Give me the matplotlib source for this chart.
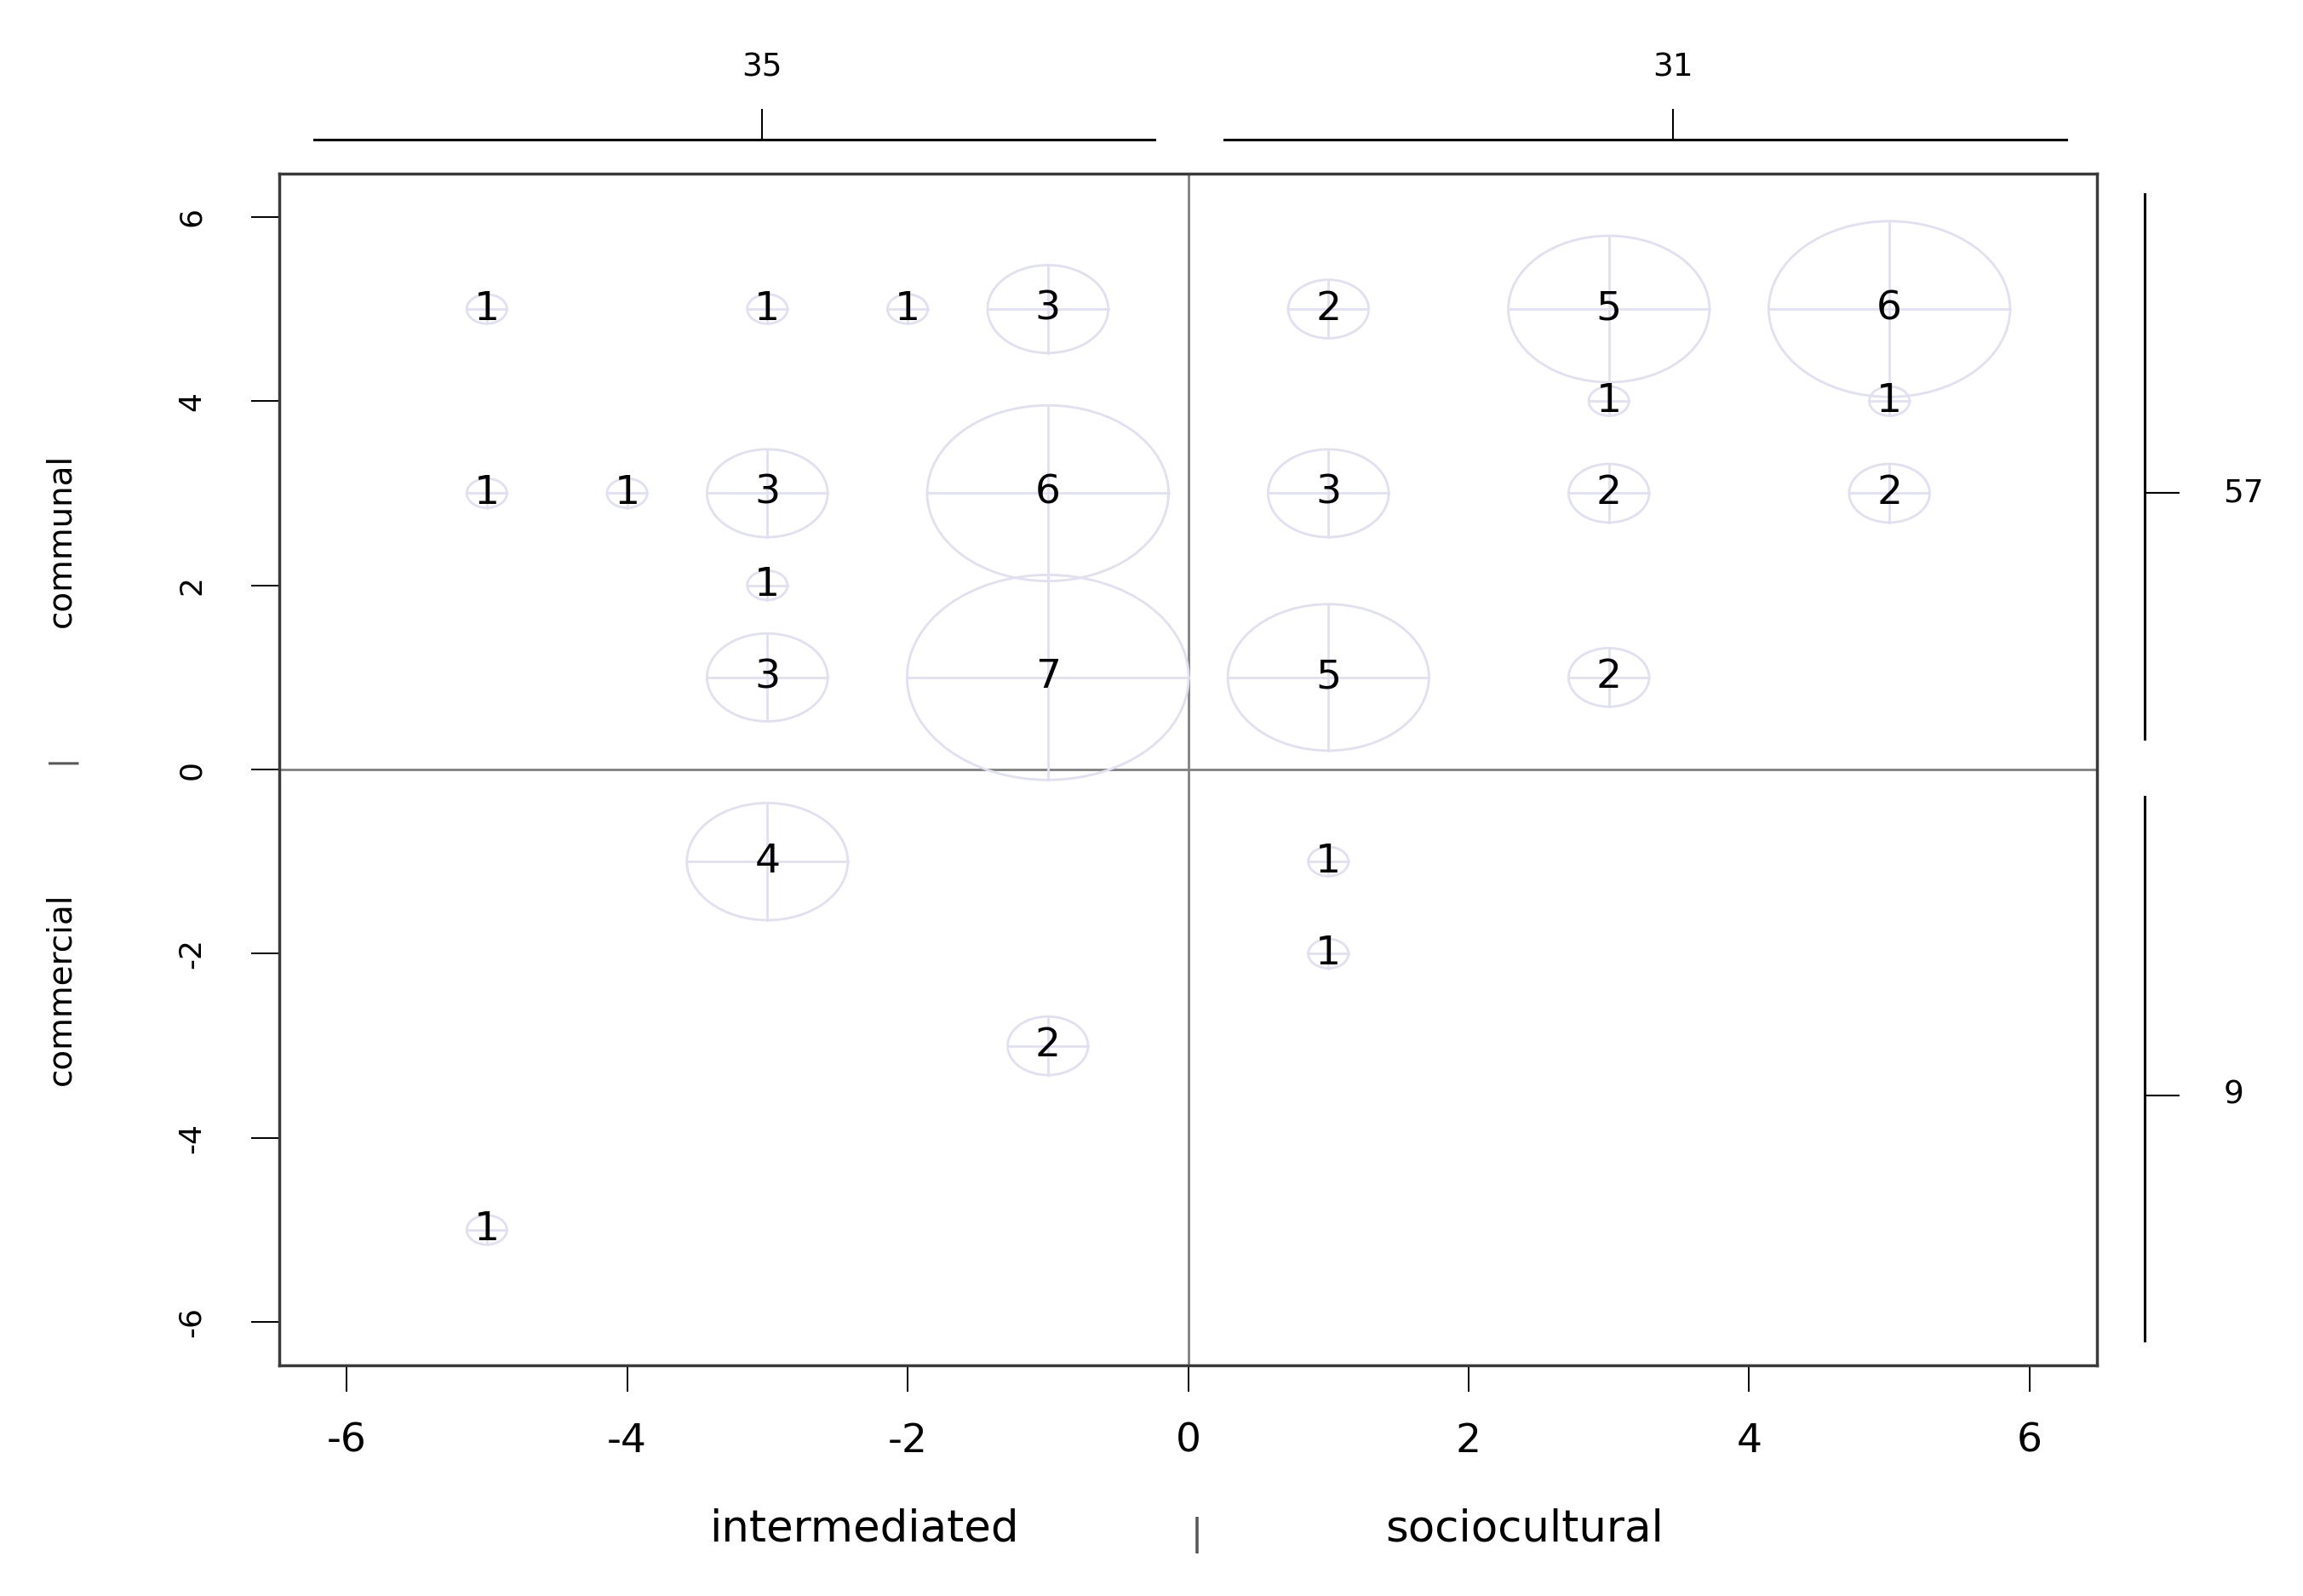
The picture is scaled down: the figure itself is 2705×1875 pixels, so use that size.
import matplotlib
matplotlib.use("Agg")
import matplotlib.pyplot as plt
from matplotlib.patches import Ellipse

# ---- data ----
xs = [-5, -3, -2, -1, -5, -4, -3, -1, -3, -3, -1,
      1, 3, 5, 3, 5, 1, 3, 5, 1, 3,
      -3, 1, 1, -1, -5]
ys = [5, 5, 5, 5, 3, 3, 3, 3, 2, 1, 1,
      5, 5, 5, 4, 4, 3, 3, 3, 1, 1,
      -1, -1, -2, -3, -5]
counts = [1, 1, 1, 3, 1, 1, 3, 6, 1, 3, 7,
          2, 5, 6, 1, 1, 3, 2, 2, 5, 2,
          4, 1, 1, 2, 1]
top_counts = [35, 31]
right_counts = [57, 9]
x_names = ["intermediated", "sociocultural"]
y_names = ["communal", "commercial"]
ticks = [-6, -4, -2, 0, 2, 4, 6]

plt.rcParams['font.family'] = ['DejaVu Sans']

fig = plt.figure(figsize=(27.05, 18.75), dpi=100)
ax = fig.add_axes([328/2705, 1 - 1604/1875, (2463-328)/2705, (1604-204)/1875])
ax.set_xlim(-6.48, 6.48)
ax.set_ylim(-6.47, 6.47)

bub = '#e0e0f2'
rx, ry = 0.1434, 0.159
for x, y, n in zip(xs, ys, counts):
    w, h = 2*rx*n, 2*ry*n
    ax.add_patch(Ellipse((x, y), w, h, fill=False, ec=bub, lw=2.0, zorder=2))
    ax.plot([x - w/2, x + w/2], [y, y], color=bub, lw=2.0, zorder=2)
    ax.plot([x, x], [y - h/2, y + h/2], color=bub, lw=2.0, zorder=2)
    ax.text(x, y, str(n), ha='center', va='center', fontsize=34, color='black', zorder=3)

ax.axhline(0, color='#808080', lw=2, zorder=1)
ax.axvline(0, color='#808080', lw=2, zorder=1)

for s in ax.spines.values():
    s.set_color('#3a3a3a')
    s.set_linewidth(2.5)

ax.set_xticks(ticks)
ax.set_yticks(ticks)
ax.set_xticklabels([str(t) for t in ticks])
ax.set_yticklabels([str(t) for t in ticks], rotation=90, va='center')
ax.tick_params(axis='x', length=22, width=1.4, pad=26, labelsize=34)
ax.tick_params(axis='y', length=24, width=1.4, pad=38, labelsize=26)

# top marginal segments
kw = dict(color='black', clip_on=False)
segs_x = [(-6.23, -0.24, -3.04), (0.26, 6.26, 3.46)]
for (a, b, t), c in zip(segs_x, top_counts):
    ax.plot([a, b], [6.84, 6.84], lw=2.2, **kw)
    ax.plot([t, t], [6.84, 7.16], lw=1.5, **kw)
    ax.text(t, 7.62, str(c), ha='center', va='center', fontsize=27, clip_on=False)

# right marginal segments
segs_y = [(0.33, 6.25, 3.0), (-6.2, -0.3, -3.54)]
for (a, b, t), c in zip(segs_y, right_counts):
    ax.plot([6.82, 6.82], [a, b], lw=2.2, **kw)
    ax.plot([6.82, 7.06], [t, t], lw=1.5, **kw)
    ax.text(7.38, t, str(c), ha='left', va='center', fontsize=27, clip_on=False)

# category labels
ax.text(-2.31, -8.25, x_names[0], ha='center', va='center', fontsize=37, clip_on=False)
ax.text(2.40, -8.25, x_names[1], ha='center', va='center', fontsize=37, clip_on=False)
ax.text(0.06, -8.31, '|', ha='center', va='center', fontsize=30, color='#555555', clip_on=False)
ax.text(-8.04, 2.49, y_names[0], rotation=90, ha='center', va='center', fontsize=28, clip_on=False)
ax.text(-8.04, -2.38, y_names[1], rotation=90, ha='center', va='center', fontsize=28, clip_on=False)
ax.text(-8.04, 0.11, '|', rotation=90, ha='center', va='center', fontsize=26, color='#555555', clip_on=False)

fig.savefig('out.png', dpi=100)
